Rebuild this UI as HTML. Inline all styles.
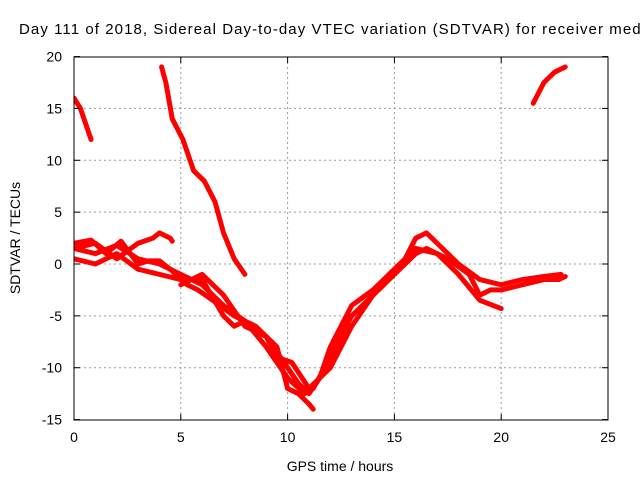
<!DOCTYPE html>
<html><head><meta charset="utf-8"><style>
body{margin:0;background:#fff}
svg{font-family:"Liberation Sans",sans-serif;font-size:14px}
</style></head><body>
<svg id="c" width="640" height="480">
<defs><clipPath id="pc"><rect x="74" y="57" width="534" height="363"/></clipPath></defs>
<text x="19" y="34" style="font-size:15px" textLength="626" lengthAdjust="spacing">Day 111 of 2018, Sidereal Day-to-day VTEC variation (SDTVAR) for receiver medi</text>
<g id="grid"></g><g id="series" clip-path="url(#pc)"></g><g id="axes"></g>
<rect x="74" y="57" width="534" height="363" fill="none" stroke="#000"/>
<text x="340" y="471" text-anchor="middle">GPS time / hours</text>
<text transform="translate(20,238) rotate(-90)" text-anchor="middle">SDTVAR / TECUs</text>
</svg>
<script>
const xTicks=[0,5,10,15,20,25];
const yTicks=[-15,-10,-5,0,5,10,15,20];
const sA=[[0,16],[0.3,15],[0.8,12]];
const sB=[[4.1,19],[4.3,17.5],[4.6,14],[5.1,12],[5.6,9],[6.1,8],[6.6,6],[7,3],[7.5,0.5],[8,-1]];
const sC1=[[0,1.5],[1,1],[2,1.8],[3,0.5],[4,0],[5,-1],[6,-2],[7,-4],[8,-5.5],[9,-7],[10,-10],[10.5,-11.5],[11,-12.5],[11.5,-11],[12,-8],[13,-4],[14,-2.5],[15,-0.5],[15.5,0.5],[16,2.5],[16.5,3],[17,2],[18,0],[19,-1.5],[20,-2],[21,-1.5],[22,-1.2],[22.8,-1]];
const sC2=[[0,0.5],[1,0],[2,1],[3,-0.5],[4,-1],[5,-1.5],[6,-1.5],[7,-5],[7.5,-6],[8,-5.5],[9,-8],[10,-11],[10.8,-12.5],[11.2,-12],[12,-9],[13,-5],[14,-3],[15,-1],[16,1.5],[17,1],[18,-1],[19,-3.5],[20,-4.3]];
const sC3=[[0,2],[0.8,2.3],[1.5,1],[2.2,2.2],[3,0],[3.5,0.3],[4,0.3],[4.5,-0.5],[5.3,-2],[5.8,-2.5],[6.5,-3.5],[7.5,-5],[8.5,-6],[9.5,-8],[10,-12],[10.5,-12.5],[11,-13.5],[11.2,-14]];
const sC4=[[0,1.5],[1,2],[2,0.5],[3,2],[3.7,2.5],[4,3],[4.5,2.5],[4.6,2.2]];
const sC5=[[5,-2],[6,-1],[7,-3],[8,-6],[9,-7],[9.5,-9],[10.2,-9.5],[11,-12],[12,-10],[13,-6],[14,-3],[14.5,-2]];
const sC6=[[15,-1],[16,1],[16.5,1.5],[17.5,0.5],[18.5,-1],[19,-3],[19.5,-2.5],[20,-2.5],[21,-2],[22,-1.5],[22.7,-1.5],[23,-1.2]];
const sD=[[21.5,15.5],[22,17.5],[22.5,18.5],[23,19]];
const allSeries=[sA,sB,sC1,sC2,sC3,sC4,sC5,sC6,sD];
const X=h=>74+h*534/25, Y=v=>264-v*363/35;
const NS="http://www.w3.org/2000/svg";
const g=document.getElementById('grid'),ax=document.getElementById('axes'),sg=document.getElementById('series');
function mk(t,a,p){const e=document.createElementNS(NS,t);for(const k in a)e.setAttribute(k,a[k]);p.appendChild(e);return e;}
xTicks.forEach(t=>{const x=X(t);
 if(t>0&&t<25){const l=mk('line',{x1:x,x2:x,y1:57,y2:420,stroke:'#999','stroke-dasharray':'2,3'},g);
 
 }
 const tx=mk('text',{x:x,y:442,'text-anchor':'middle'},ax);tx.textContent=t;
 
 
 mk('line',{x1:x,x2:x,y1:420,y2:414,stroke:'#000'},ax);mk('line',{x1:x,x2:x,y1:57,y2:63,stroke:'#000'},ax);});
yTicks.forEach(t=>{const y=Y(t);
 if(t>-15&&t<20){const l=mk('line',{x1:74,x2:608,y1:y,y2:y,stroke:'#999','stroke-dasharray':'2,3'},g);
 
 }
 const tx=mk('text',{x:62,y:y+5,'text-anchor':'end'},ax);tx.textContent=t;
 
 
 mk('line',{x1:74,x2:80,y1:y,y2:y,stroke:'#000'},ax);mk('line',{x1:602,x2:608,y1:y,y2:y,stroke:'#000'},ax);});
allSeries.forEach((s,i)=>{
 const p=mk('polyline',{points:s.map(d=>X(d[0])+','+Y(d[1])).join(' '),fill:'none',stroke:'#f00','stroke-width':5,'stroke-linejoin':'round','stroke-linecap':'round'},sg);
 
 
});
</script>
</body></html>
